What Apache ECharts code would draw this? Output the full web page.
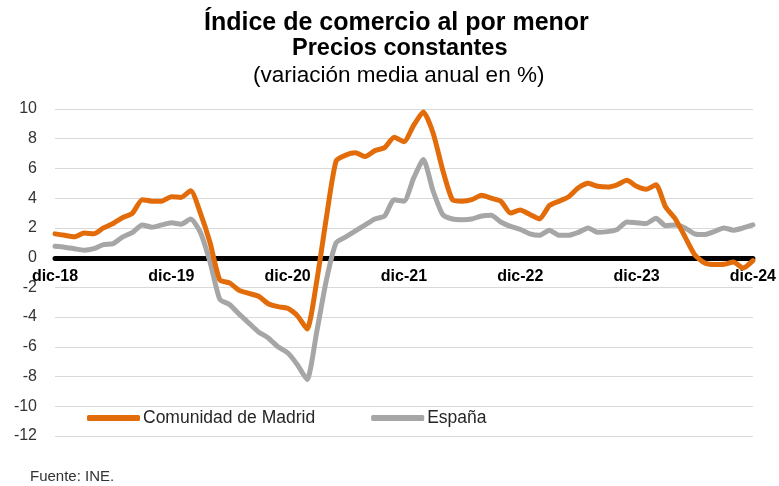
<!DOCTYPE html>
<html>
<head>
<meta charset="utf-8">
<script src="https://cdn.jsdelivr.net/npm/echarts@6/dist/echarts.min.js"></script>
<style>
html,body{margin:0;padding:0;background:#fff;}
#chart{width:779px;height:486px;}
</style>
</head>
<body>
<div id="chart"></div>
<script>
var months = ['ene','feb','mar','abr','may','jun','jul','ago','sep','oct','nov','dic'];
var categories = ['dic-18'];
for (var y = 19; y <= 24; y++) {
  for (var m = 0; m < 12; m++) categories.push(months[m] + '-' + y);
}

var madrid = [
  1.6, 1.5, 1.4, 1.65, 1.6, 2.0, 2.3, 2.7, 3.0, 3.9, 3.8, 3.8,
  4.1, 4.05, 4.5, 3.0, 1.0, -1.5, -1.7, -2.2, -2.4, -2.6, -3.1, -3.3,
  -3.4, -3.9, -4.8, -1.6, 2.7, 6.5, 6.9, 7.05, 6.8, 7.2, 7.4, 8.1,
  7.8, 8.9, 9.8, 8.4, 5.9, 3.9, 3.8, 3.9, 4.2, 4.0, 3.8, 3.0,
  3.2, 2.9, 2.6, 3.5, 3.8, 4.1, 4.7, 5.0, 4.8, 4.75, 4.9, 5.2,
  4.8, 4.6, 4.9, 3.4, 2.6, 1.4, 0.2, -0.35, -0.47, -0.45, -0.3, -0.7,
  -0.2
];
var espana = [
  0.76, 0.7, 0.6, 0.5, 0.6, 0.87, 0.94, 1.4, 1.7, 2.2, 2.05, 2.2,
  2.35, 2.25, 2.6, 1.7, -0.3, -2.8, -3.15, -3.8, -4.4, -5.0, -5.4, -6.0,
  -6.4, -7.2, -8.2, -5.0, -1.5, 1.0, 1.4, 1.8, 2.2, 2.6, 2.8, 3.9,
  3.8, 5.35, 6.6, 4.5, 2.9, 2.6, 2.55, 2.6, 2.8, 2.85, 2.4, 2.1,
  1.9, 1.6, 1.5, 1.85, 1.5, 1.5, 1.7, 2.0, 1.7, 1.75, 1.9, 2.4,
  2.35, 2.3, 2.65, 2.15, 2.2, 2.0, 1.6, 1.55, 1.75, 2.0, 1.85, 2.0,
  2.2
];

var titleLines = ['Índice de comercio al por menor', 'Precios constantes', '(variación media anual en %)'];
var source = 'Fuente: INE.';

var FONT = 'Liberation Sans, Arial, sans-serif';
var chart = echarts.init(document.getElementById('chart'));
chart.setOption({
  backgroundColor: '#ffffff',
  animation: false,
  graphic: [
    { type: 'text', left: 400 - 196, top: 11, style: { text: titleLines[0], font: 'bold 25px ' + FONT, fill: '#000' } },
    { type: 'text', left: 400 - 108, top: 37, style: { text: titleLines[1], font: 'bold 23.5px ' + FONT, fill: '#000' } },
    { type: 'text', left: 400 - 147, top: 64, style: { text: titleLines[2], font: '22.5px ' + FONT, fill: '#000' } },
    { type: 'text', left: 30, top: 469, style: { text: source, font: '15px ' + FONT, fill: '#333' } }
  ],
  legend: {
    left: 87,
    top: 409,
    padding: 0,
    itemWidth: 53,
    itemHeight: 6,
    itemGap: 56,
    icon: 'roundRect',
    textStyle: { fontFamily: FONT, fontSize: 17.5, color: '#262626', padding: [0, 0, 0, -2] },
    data: ['Comunidad de Madrid', 'España']
  },
  grid: { left: 55, right: 25, top: 109, bottom: 50 },
  xAxis: {
    type: 'category',
    data: categories,
    boundaryGap: false,
    offset: -178,
    axisLine: { onZero: false, lineStyle: { color: '#000', width: 5 } },
    axisTick: { show: false },
    splitLine: { show: false },
    axisLabel: {
      interval: function (idx) { return idx % 12 === 0; },
      margin: 11,
      fontFamily: FONT,
      fontWeight: 'bold',
      fontSize: 16,
      color: '#000'
    }
  },
  yAxis: {
    type: 'value',
    min: -12,
    max: 10,
    interval: 2,
    axisLine: { show: false },
    axisTick: { show: false },
    splitLine: { lineStyle: { color: '#d9d9d9', width: 1 } },
    axisLabel: { margin: 18, fontFamily: FONT, fontSize: 16, color: '#333' }
  },
  series: [
    {
      name: 'Comunidad de Madrid',
      type: 'line',
      data: madrid,
      showSymbol: false,
      smooth: 0.2,
      color: '#E36C0A',
      lineStyle: { color: '#E36C0A', width: 5, cap: 'round', join: 'round' },
      z: 3
    },
    {
      name: 'España',
      type: 'line',
      data: espana,
      showSymbol: false,
      smooth: 0.2,
      color: '#A6A6A6',
      lineStyle: { color: '#A6A6A6', width: 5, cap: 'round', join: 'round' },
      z: 2
    }
  ]
});
</script>
</body>
</html>
